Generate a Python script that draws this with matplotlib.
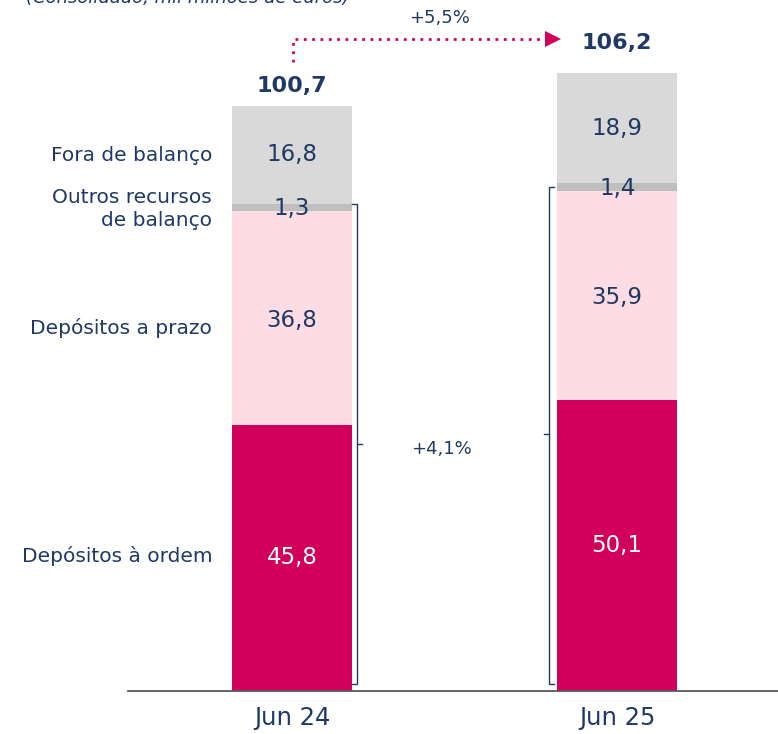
import matplotlib.pyplot as plt

plt.rcParams['font.family'] = ['DejaVu Sans']

periods = ['Jun 24', 'Jun 25']
segments = ['Depósitos à ordem', 'Depósitos a prazo', 'Outros recursos\nde balanço', 'Fora de balanço']
values = [
    [45.8, 50.1],   # depósitos à ordem
    [36.8, 35.9],   # depósitos a prazo
    [1.3, 1.4],     # outros recursos de balanço
    [16.8, 18.9],   # fora de balanço
]
totals = [100.7, 106.2]
growth_total = '+5,5%'
growth_balance = '+4,1%'

NAVY = '#1f3864'
COLORS = ['#d1005b', '#fddce3', '#bfbfbf', '#d9d9d9']
TEXT_COLORS = ['white', NAVY, NAVY, NAVY]

def fmt(v):
    return f'{v:.1f}'.replace('.', ',')

fig = plt.figure(figsize=(7.78, 7.34), dpi=100)
ax = fig.add_axes([128 / 778, 43 / 734, 650 / 778, 691 / 734])
ax.set_xlim(-0.505, 1.495)
ax.set_ylim(0, 691 / 5.81)

x = [0, 1]
width = 0.369
bottoms = [0.0, 0.0]
for si, seg in enumerate(segments):
    vals = values[si]
    ax.bar(x, vals, width=width, bottom=bottoms, color=COLORS[si], linewidth=0)
    for xi in range(2):
        yc = bottoms[xi] + vals[xi] / 2
        if si == 2:
            yc = bottoms[xi] + vals[xi] / 2 - 0.2
        elif si == 1:
            yc -= 0.4
        ax.text(x[xi], yc, fmt(vals[xi]), ha='center', va='center',
                fontsize=16.5, color=TEXT_COLORS[si])
    bottoms = [bottoms[i] + vals[i] for i in range(2)]

# segment names on the left of the first bar
label_y = [23.2, 62.5, 83.0, 92.1]
for si, seg in enumerate(segments):
    ax.text(-0.246, label_y[si], seg, ha='right', va='center', fontsize=14.5,
            color=NAVY, linespacing=1.3, clip_on=False)

# totals
total_off = [3.4, 5.3]
for xi in range(2):
    ax.text(x[xi], totals[xi] + total_off[xi], fmt(totals[xi]), ha='center', va='center',
            fontsize=16, fontweight='bold', color=NAVY)

# brackets around on-balance resources
bal = [values[0][i] + values[1][i] + values[2][i] for i in range(2)]
hook = 0.016
low = 1.2
bx1 = 0.2
ax.plot([bx1 - hook, bx1, bx1, bx1 - hook], [bal[0], bal[0], low, low],
        color=NAVY, lw=1.0, solid_joinstyle='miter')
ax.plot([bx1, bx1 + hook], [(bal[0] + low) / 2] * 2, color=NAVY, lw=1.0)
bx2 = 0.791
ax.plot([bx2 + hook, bx2, bx2, bx2 + hook], [bal[1] - 0.6, bal[1] - 0.6, low, low],
        color=NAVY, lw=1.0, solid_joinstyle='miter')
ax.plot([bx2 - hook, bx2], [(bal[1] + low) / 2] * 2, color=NAVY, lw=1.0)
ax.text(0.46, 41.7, growth_balance, ha='center', va='center', fontsize=13, color=NAVY)

# dotted growth arrow between totals
ax.plot([0.003, 0.003, 0.79], [108.3, 112.2, 112.2], color='#d1005b', lw=2,
        linestyle=(0, (1, 2)), clip_on=False)
ax.plot([0.802], [112.2], marker='>', markersize=12, color='#d1005b',
        markeredgewidth=0, clip_on=False)
ax.text(0.455, 115.8, growth_total, ha='center', va='center', fontsize=13, color=NAVY)

# axis styling
for s in ['top', 'right', 'left']:
    ax.spines[s].set_visible(False)
ax.spines['bottom'].set_color('#595959')
ax.spines['bottom'].set_linewidth(1.3)
ax.set_yticks([])
ax.set_xticks(x)
ax.set_xticklabels(periods, fontsize=17.5, color=NAVY)
ax.tick_params(axis='x', length=0, pad=11)

fig.text(188 / 778, 1.0 + 2 / 734, '(Consolidado, mil milhões de euros)', ha='center',
         va='center', fontsize=13, style='italic', color=NAVY)

fig.savefig('out.png', dpi=100)
